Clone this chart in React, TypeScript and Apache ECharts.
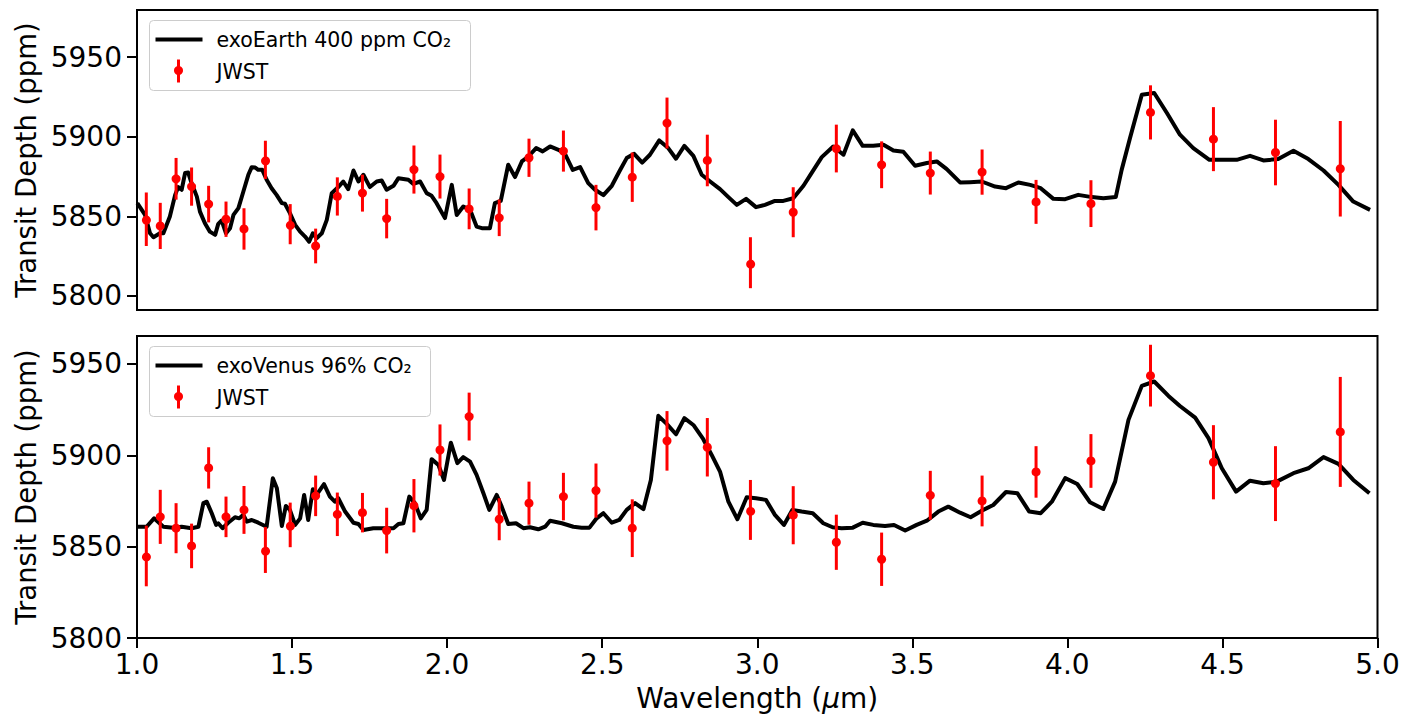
import React, { useEffect, useRef } from "react";
import * as echarts from "echarts";

// JWST simulated observations (wavelength in micron)
const jwstWavelength = [1.03, 1.075, 1.126, 1.176, 1.231, 1.287, 1.345, 1.414, 1.494, 1.576, 1.646, 1.727, 1.805, 1.893, 1.977, 2.071, 2.168, 2.264, 2.375, 2.48, 2.597, 2.709, 2.839, 2.978, 3.116, 3.255, 3.401, 3.558, 3.725, 3.899, 4.076, 4.268, 4.471, 4.671, 4.88];

const earthDepth = [5848.2, 5844.0, 5873.6, 5868.7, 5857.7, 5848.2, 5842.1, 5885.5, 5845.1, 5831.4, 5862.5, 5864.6, 5848.6, 5879.4, 5875.0, 5854.7, 5849.1, 5886.8, 5891.0, 5855.5, 5874.6, 5908.6, 5885.1, 5820.9, 5852.6, 5892.6, 5882.4, 5877.2, 5877.8, 5859.1, 5858.0, 5915.3, 5898.5, 5890.1, 5879.9];
const earthErr = [16.8, 14.5, 13.1, 12, 11.5, 11.1, 13, 12, 12.6, 10.9, 12, 11.6, 12.4, 15.1, 13.8, 12.8, 11.5, 12, 12.9, 14.3, 15.5, 16, 16.2, 16, 15.7, 15, 14.7, 13.5, 14.2, 13.8, 14.7, 17, 20.1, 20.6, 30];

const venusDepth = [5844.9, 5866.3, 5860.1, 5850.4, 5893.1, 5866.3, 5870.1, 5848.2, 5861.9, 5877.8, 5867.7, 5868.6, 5858.8, 5872.4, 5902.9, 5921.2, 5865.0, 5873.8, 5877.4, 5880.7, 5860.1, 5907.9, 5904.4, 5870.1, 5867.2, 5852.4, 5843.1, 5878.1, 5875.0, 5890.9, 5896.9, 5943.6, 5896.2, 5884.5, 5912.8];
const venusErr = [16.6, 14.8, 13.7, 12.2, 11.3, 11.1, 13.1, 12.6, 12.2, 11.1, 11.9, 10.8, 12.5, 14.6, 14, 13.1, 11.5, 11.8, 13, 14.8, 15.8, 16.3, 16, 16.4, 15.9, 15.1, 14.6, 13.4, 13.9, 14.1, 14.7, 16.9, 20.3, 20.5, 30.1];

// exoEarth 400 ppm CO2 model spectrum
const earthModelWl = [1.001, 1.026, 1.042, 1.053, 1.074, 1.085, 1.106, 1.123, 1.133, 1.144, 1.155, 1.165, 1.176, 1.193, 1.203, 1.219, 1.235, 1.252, 1.262, 1.273, 1.287, 1.3, 1.311, 1.327, 1.343, 1.359, 1.37, 1.381, 1.391, 1.404, 1.418, 1.434, 1.45, 1.467, 1.477, 1.493, 1.51, 1.526, 1.542, 1.555, 1.567, 1.579, 1.596, 1.612, 1.628, 1.649, 1.665, 1.681, 1.698, 1.714, 1.73, 1.751, 1.773, 1.789, 1.805, 1.827, 1.843, 1.875, 1.891, 1.913, 1.934, 1.95, 1.966, 1.993, 2.015, 2.031, 2.052, 2.074, 2.095, 2.112, 2.138, 2.154, 2.173, 2.197, 2.219, 2.241, 2.262, 2.287, 2.308, 2.332, 2.359, 2.38, 2.405, 2.429, 2.455, 2.477, 2.504, 2.531, 2.557, 2.579, 2.603, 2.629, 2.654, 2.684, 2.713, 2.738, 2.765, 2.794, 2.821, 2.848, 2.88, 2.907, 2.934, 2.964, 2.996, 3.025, 3.057, 3.084, 3.116, 3.149, 3.176, 3.208, 3.245, 3.278, 3.308, 3.34, 3.374, 3.407, 3.439, 3.471, 3.509, 3.547, 3.579, 3.611, 3.654, 3.686, 3.724, 3.767, 3.802, 3.842, 3.88, 3.914, 3.955, 3.993, 4.035, 4.079, 4.116, 4.156, 4.175, 4.202, 4.24, 4.28, 4.321, 4.363, 4.406, 4.458, 4.503, 4.546, 4.589, 4.632, 4.68, 4.729, 4.777, 4.826, 4.874, 4.922, 4.976];
const earthModelDepth = [5858.3, 5850.9, 5839.4, 5836.9, 5839.4, 5839.4, 5849.9, 5863.5, 5868.4, 5866.7, 5877.2, 5877.5, 5870.9, 5862.4, 5853.0, 5845.7, 5840.4, 5838.4, 5845.3, 5847.4, 5839.4, 5842.6, 5850.9, 5855.2, 5865.6, 5876.1, 5880.9, 5880.7, 5879.2, 5879.2, 5873.0, 5867.7, 5863.5, 5858.3, 5857.9, 5852.0, 5844.7, 5840.4, 5837.3, 5834.1, 5839.4, 5836.3, 5839.4, 5847.8, 5864.6, 5868.4, 5871.9, 5867.1, 5878.8, 5871.9, 5876.1, 5868.4, 5871.9, 5872.5, 5866.7, 5869.2, 5874.0, 5873.0, 5870.4, 5871.9, 5864.6, 5862.9, 5858.3, 5848.9, 5869.8, 5850.9, 5856.2, 5854.1, 5843.6, 5842.6, 5842.6, 5858.3, 5859.7, 5882.4, 5874.7, 5884.5, 5887.6, 5892.9, 5890.8, 5893.9, 5891.8, 5889.3, 5879.2, 5880.9, 5870.9, 5866.7, 5863.3, 5869.2, 5878.8, 5886.6, 5889.3, 5883.8, 5888.7, 5897.7, 5892.9, 5886.2, 5894.3, 5888.0, 5876.1, 5871.9, 5867.1, 5862.1, 5857.2, 5861.0, 5855.8, 5857.2, 5859.7, 5859.7, 5861.4, 5869.2, 5877.5, 5887.2, 5893.9, 5888.7, 5904.0, 5894.3, 5894.3, 5895.0, 5891.4, 5890.6, 5881.8, 5883.5, 5884.5, 5879.7, 5871.3, 5871.5, 5871.9, 5868.7, 5867.7, 5871.3, 5869.8, 5867.7, 5861.0, 5860.8, 5863.5, 5862.1, 5861.4, 5862.1, 5879.2, 5899.2, 5926.4, 5927.5, 5914.9, 5901.3, 5892.9, 5885.5, 5885.5, 5885.5, 5888.0, 5885.1, 5886.0, 5891.2, 5886.0, 5878.8, 5869.8, 5859.3, 5854.1];

// exoVenus 96% CO2 model spectrum
const venusModelWl = [1.001, 1.031, 1.055, 1.085, 1.117, 1.144, 1.176, 1.198, 1.214, 1.225, 1.241, 1.255, 1.262, 1.276, 1.294, 1.316, 1.33, 1.343, 1.354, 1.37, 1.391, 1.418, 1.438, 1.451, 1.467, 1.48, 1.493, 1.51, 1.526, 1.539, 1.552, 1.567, 1.579, 1.603, 1.622, 1.638, 1.649, 1.671, 1.698, 1.714, 1.73, 1.762, 1.794, 1.827, 1.843, 1.859, 1.878, 1.896, 1.915, 1.934, 1.95, 1.972, 1.99, 2.012, 2.033, 2.052, 2.074, 2.095, 2.117, 2.136, 2.16, 2.176, 2.197, 2.222, 2.246, 2.267, 2.294, 2.316, 2.332, 2.37, 2.407, 2.434, 2.459, 2.482, 2.504, 2.531, 2.555, 2.579, 2.606, 2.633, 2.657, 2.681, 2.708, 2.738, 2.765, 2.794, 2.826, 2.853, 2.88, 2.907, 2.936, 2.966, 2.996, 3.028, 3.057, 3.086, 3.113, 3.143, 3.179, 3.213, 3.243, 3.272, 3.308, 3.34, 3.374, 3.412, 3.441, 3.477, 3.514, 3.547, 3.584, 3.616, 3.654, 3.688, 3.724, 3.761, 3.802, 3.839, 3.877, 3.914, 3.95, 3.993, 4.032, 4.073, 4.116, 4.154, 4.197, 4.24, 4.28, 4.326, 4.363, 4.412, 4.455, 4.498, 4.544, 4.589, 4.632, 4.675, 4.729, 4.777, 4.826, 4.874, 4.922, 4.974];
const venusModelDepth = [5860.9, 5860.9, 5865.5, 5860.9, 5860.4, 5860.9, 5860.1, 5860.9, 5873.8, 5874.6, 5868.3, 5861.9, 5862.8, 5860.1, 5863.1, 5866.1, 5865.5, 5867.4, 5863.7, 5864.6, 5863.1, 5860.9, 5887.5, 5882.0, 5861.3, 5872.3, 5870.1, 5861.9, 5865.5, 5878.3, 5864.6, 5881.4, 5878.3, 5884.2, 5877.4, 5874.6, 5876.5, 5869.2, 5863.1, 5862.4, 5859.1, 5860.1, 5860.1, 5860.1, 5862.4, 5862.8, 5877.4, 5873.8, 5865.5, 5870.1, 5897.9, 5894.7, 5886.5, 5906.9, 5895.7, 5899.0, 5896.5, 5889.3, 5879.2, 5870.1, 5878.3, 5871.9, 5862.4, 5862.8, 5860.1, 5860.6, 5859.5, 5860.9, 5864.2, 5862.8, 5860.9, 5860.4, 5860.4, 5865.5, 5868.3, 5863.1, 5864.6, 5870.1, 5873.8, 5870.5, 5886.5, 5921.6, 5917.2, 5911.5, 5920.3, 5916.6, 5908.8, 5900.2, 5891.1, 5874.6, 5865.0, 5877.0, 5876.5, 5875.6, 5867.4, 5861.9, 5870.1, 5869.2, 5868.3, 5862.8, 5860.6, 5860.1, 5860.4, 5863.1, 5861.9, 5861.3, 5861.9, 5858.8, 5861.9, 5864.2, 5869.2, 5871.9, 5868.6, 5866.1, 5869.7, 5872.8, 5879.9, 5879.2, 5869.2, 5868.3, 5874.6, 5887.5, 5884.3, 5874.3, 5870.6, 5885.6, 5919.4, 5938.0, 5940.4, 5932.5, 5927.0, 5920.6, 5909.4, 5892.9, 5880.1, 5886.1, 5884.7, 5885.6, 5890.2, 5892.9, 5899.0, 5895.3, 5886.5, 5879.2];

const xTicks = [1.0, 1.5, 2.0, 2.5, 3.0, 3.5, 4.0, 4.5, 5.0];
const yTicks = [5800, 5850, 5900, 5950];

const earthLabel = "exoEarth 400 ppm CO₂";
const venusLabel = "exoVenus 96% CO₂";
const dataLabel = "JWST";

const FONT = "DejaVu Sans";

function zip2(a: number[], b: number[]) {
  return a.map((v, i) => [v, b[i]]);
}
function zip3(a: number[], b: number[], c: number[]) {
  return a.map((v, i) => [v, b[i], c[i]]);
}

const errorBarRender = (params: any, api: any) => {
  const x = api.value(0);
  const y = api.value(1);
  const e = api.value(2);
  const p = api.coord([x, y]);
  const hi = api.coord([x, y + e]);
  const lo = api.coord([x, y - e]);
  return {
    type: "group",
    children: [
      {
        type: "line",
        shape: { x1: p[0], y1: hi[1], x2: p[0], y2: lo[1] },
        style: { stroke: "#ff0000", lineWidth: 3 },
      },
      {
        type: "circle",
        shape: { cx: p[0], cy: p[1], r: 4.5 },
        style: { fill: "#ff0000" },
      },
    ],
  };
};

function legendGroup(top: number, width: number, label: string) {
  return {
    type: "group",
    left: 149,
    top: top,
    children: [
      {
        type: "rect",
        shape: { x: 0, y: 0, width: width, height: 70, r: 4 },
        style: { fill: "rgba(255,255,255,0.8)", stroke: "#cccccc", lineWidth: 1 },
      },
      {
        type: "line",
        shape: { x1: 6, y1: 19, x2: 53, y2: 19 },
        style: { stroke: "#000", lineWidth: 4 },
      },
      {
        type: "text",
        x: 67,
        y: 19,
        style: { text: label, font: `20.5px '${FONT}'`, fill: "#000", verticalAlign: "middle", textAlign: "left" },
      },
      {
        type: "line",
        shape: { x1: 29, y1: 39, x2: 29, y2: 62 },
        style: { stroke: "#ff0000", lineWidth: 3 },
      },
      {
        type: "circle",
        shape: { cx: 29, cy: 50, r: 4.5 },
        style: { fill: "#ff0000" },
      },
      {
        type: "text",
        x: 67,
        y: 51,
        style: { text: dataLabel, font: `20.5px '${FONT}'`, fill: "#000", verticalAlign: "middle", textAlign: "left" },
      },
    ],
  };
}

export default function App() {
  const ref = useRef<HTMLDivElement>(null);

  useEffect(() => {
    if (!ref.current) return;
    const chart = echarts.init(ref.current, null, { renderer: "svg" });

    const gridBase = {
      left: 137,
      width: 1240.5,
      show: true,
      borderColor: "#000",
      borderWidth: 2,
      backgroundColor: "transparent",
      containLabel: false,
    };

    const yAxisBase = (min: number, max: number, gridIndex: number) => ({
      type: "value",
      gridIndex,
      min,
      max,
      name: "Transit Depth (ppm)",
      nameLocation: "middle",
      nameRotate: 90,
      nameGap: 94,
      nameTextStyle: { fontFamily: FONT, fontSize: 27.5, color: "#000" },
      axisLine: { show: false },
      axisTick: {
        show: true,
        length: 10,
        inside: false,
        lineStyle: { color: "#000", width: 2 },
        customValues: yTicks,
      },
      axisLabel: {
        show: true,
        fontFamily: FONT,
        fontSize: 28,
        color: "#000",
        margin: 15,
        customValues: yTicks,
        formatter: (v: number) => String(v),
      },
      splitLine: { show: false },
    });

    const option: any = {
      animation: false,
      backgroundColor: "#ffffff",
      grid: [
        { ...gridBase, top: 10, height: 300 },
        { ...gridBase, top: 336, height: 302 },
      ],
      xAxis: [
        {
          type: "value",
          gridIndex: 0,
          min: 1,
          max: 5,
          interval: 0.5,
          axisLine: { show: false },
          axisTick: { show: false },
          axisLabel: { show: false },
          splitLine: { show: false },
        },
        {
          type: "value",
          gridIndex: 1,
          min: 1,
          max: 5,
          interval: 0.5,
          name: "Wavelength ({i|μ}m)",
          nameLocation: "middle",
          nameGap: 46,
          nameTextStyle: {
            fontFamily: FONT,
            fontSize: 28,
            color: "#000",
            rich: { i: { fontFamily: FONT, fontSize: 28, fontStyle: "italic", color: "#000" } },
          },
          axisLine: { show: false },
          axisTick: {
            show: true,
            length: 10,
            inside: false,
            lineStyle: { color: "#000", width: 2 },
            customValues: xTicks,
          },
          axisLabel: {
            show: true,
            fontFamily: FONT,
            fontSize: 28,
            color: "#000",
            margin: 12,
            customValues: xTicks,
            formatter: (v: number) => v.toFixed(1),
          },
          splitLine: { show: false },
        },
      ],
      yAxis: [yAxisBase(5791.2, 5979.6, 0), yAxisBase(5800, 5965.3, 1)],
      series: [
        {
          name: earthLabel,
          type: "line",
          xAxisIndex: 0,
          yAxisIndex: 0,
          data: zip2(earthModelWl, earthModelDepth),
          showSymbol: false,
          symbol: "none",
          lineStyle: { color: "#000", width: 4, join: "round" },
          z: 2,
        },
        {
          name: dataLabel,
          type: "custom",
          xAxisIndex: 0,
          yAxisIndex: 0,
          data: zip3(jwstWavelength, earthDepth, earthErr),
          encode: { x: 0, y: 1 },
          renderItem: errorBarRender,
          z: 3,
        },
        {
          name: venusLabel,
          type: "line",
          xAxisIndex: 1,
          yAxisIndex: 1,
          data: zip2(venusModelWl, venusModelDepth),
          showSymbol: false,
          symbol: "none",
          lineStyle: { color: "#000", width: 4, join: "round" },
          z: 2,
        },
        {
          name: dataLabel + " ",
          type: "custom",
          xAxisIndex: 1,
          yAxisIndex: 1,
          data: zip3(jwstWavelength, venusDepth, venusErr),
          encode: { x: 0, y: 1 },
          renderItem: errorBarRender,
          z: 3,
        },
      ],
      graphic: [legendGroup(20, 321, earthLabel), legendGroup(346, 281, venusLabel)],
    };

    chart.setOption(option);
    return () => {
      chart.dispose();
    };
  }, []);

  return (
    <div
      ref={ref}
      style={{ position: "absolute", left: 0, top: 0, width: 1419, height: 717, background: "#fff" }}
    />
  );
}
